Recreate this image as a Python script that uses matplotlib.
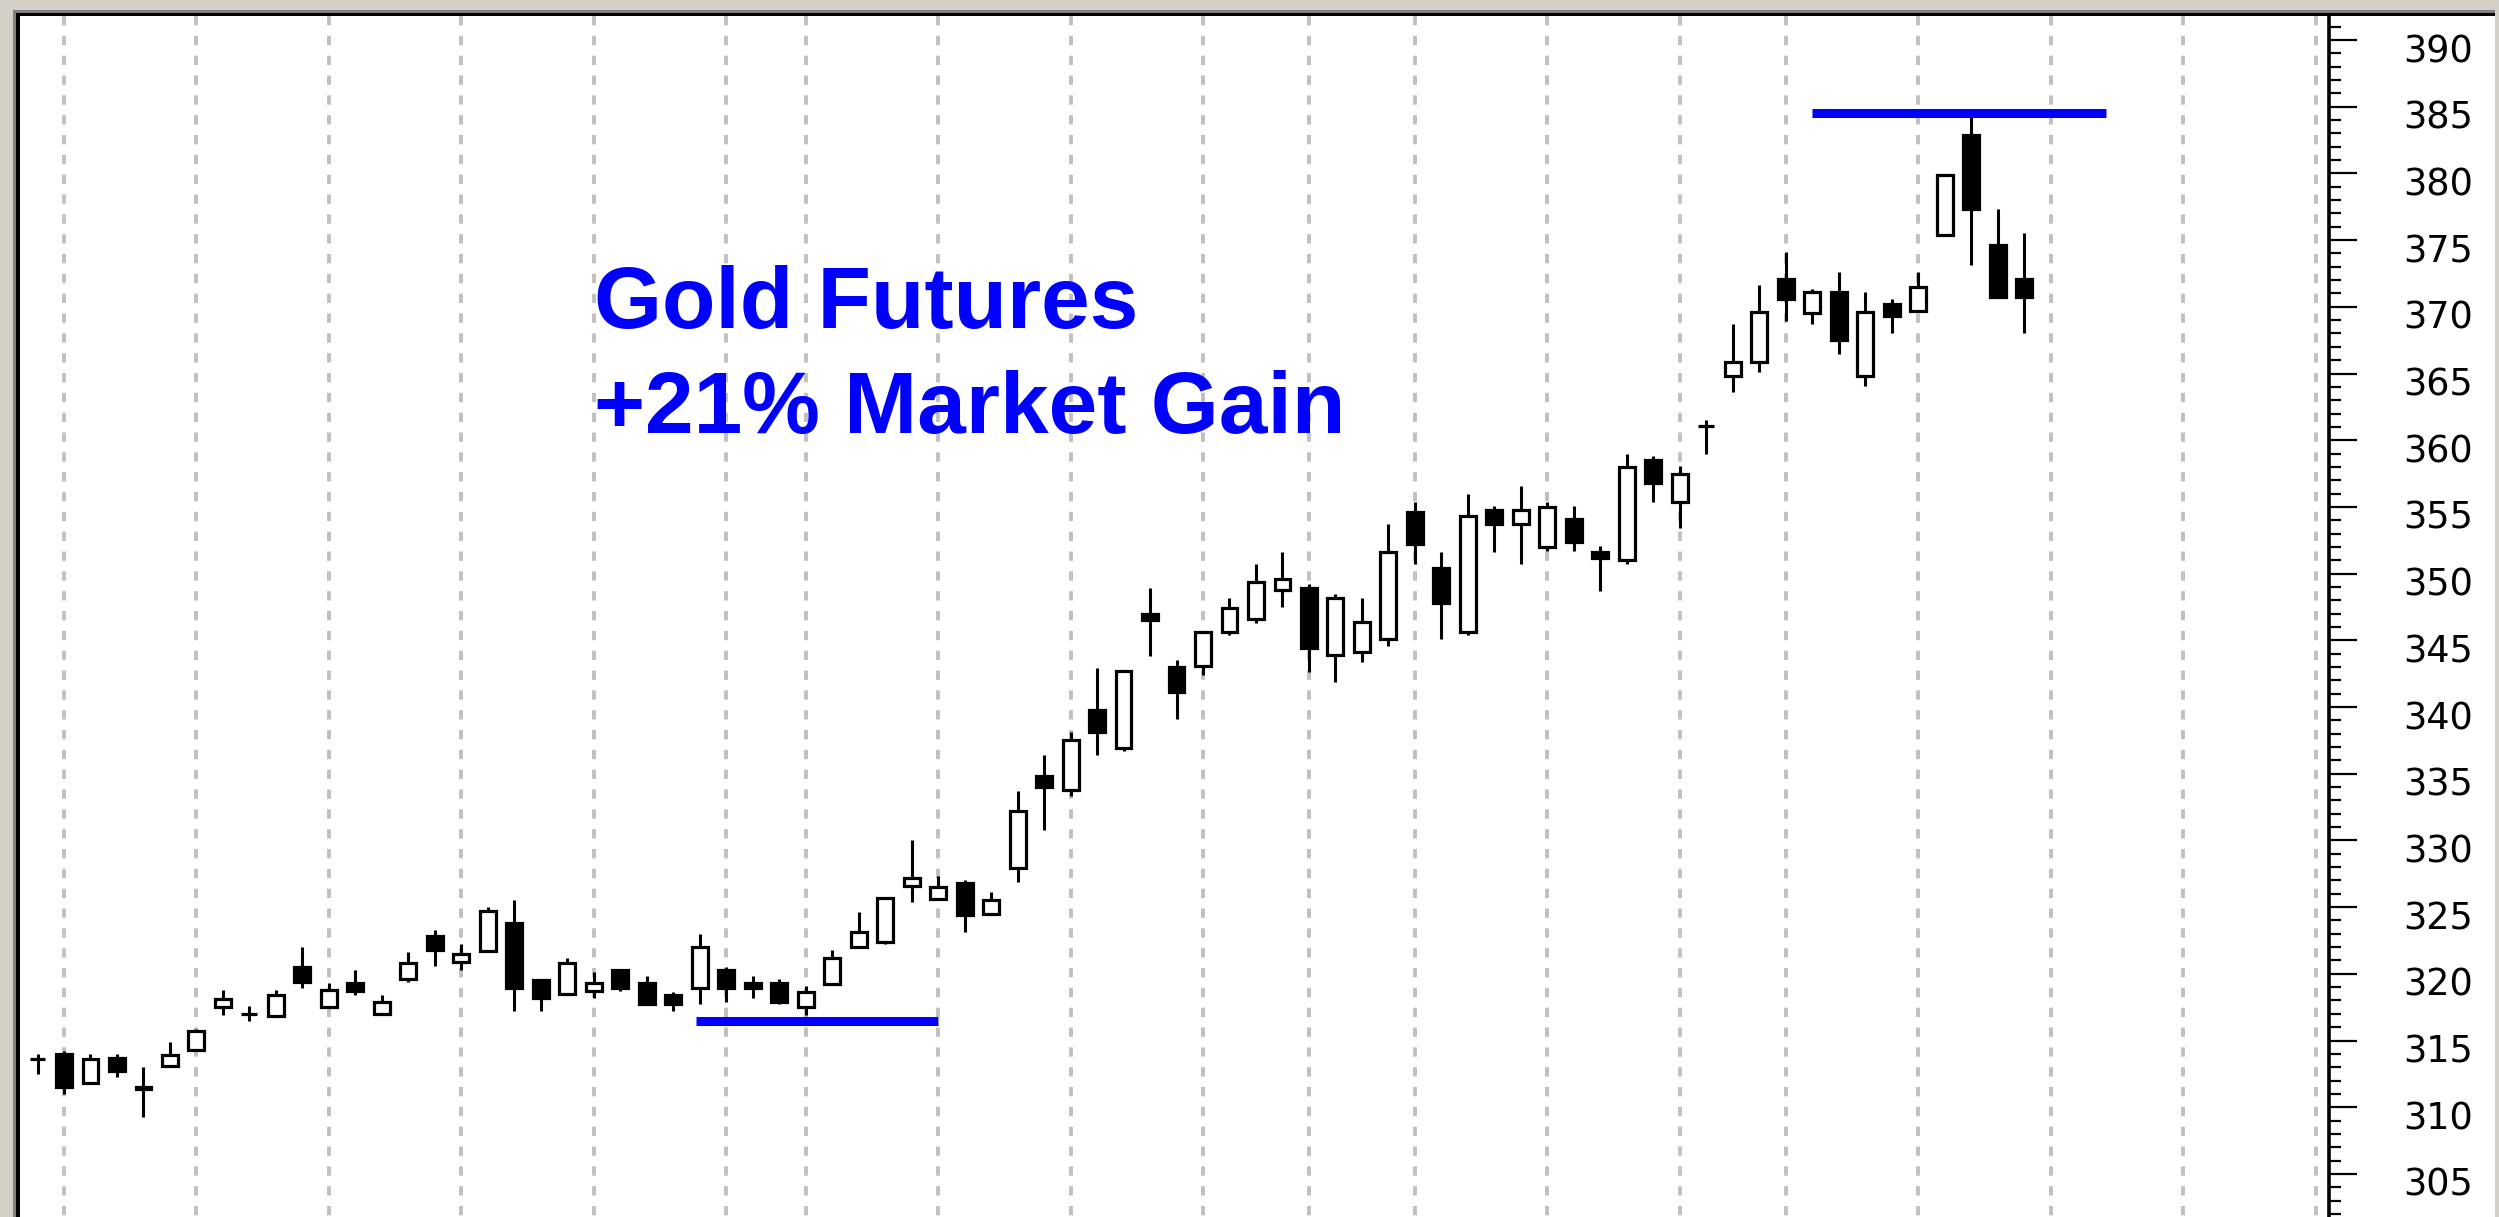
import matplotlib
matplotlib.use('Agg')
import matplotlib.pyplot as plt
import matplotlib.ticker as ticker
from matplotlib.patches import Rectangle
from matplotlib.transforms import ScaledTranslation
import pandas as pd

# Gold futures, daily bars, 18 Oct 2002 - 7 Feb 2003
opens = [313.6, 314.0, 311.8, 313.7, 311.5, 313.1, 314.3, 317.5, 317.0, 316.8,
         320.5, 317.5, 319.3, 317.0, 319.6, 322.8, 320.9, 321.7, 323.8, 319.5,
         318.5, 318.7, 320.3, 319.3, 318.4, 318.9, 320.3, 319.3, 319.3, 317.5,
         319.2, 322.0, 322.4, 326.6, 325.6, 326.8, 324.5, 327.9, 334.8, 333.8,
         339.8, 336.9, 347.0, 343.0, 343.1, 345.6, 346.6, 348.8, 348.9, 343.9,
         344.1, 345.1, 354.6, 350.4, 345.6, 354.8, 353.7, 352.0, 354.1, 351.6,
         351.0, 358.5, 355.4, 361.1, 364.8, 365.9, 372.1, 369.5, 371.1, 364.8,
         370.2, 369.7, 375.4, 382.9, 374.6, 372.1]
highs = [314.0, 314.2, 314.0, 314.0, 313.0, 314.9, 315.9, 318.8, 317.6, 318.8,
         322.0, 319.3, 320.3, 318.4, 321.6, 323.3, 322.2, 325.0, 325.5, 319.5,
         321.2, 320.1, 320.3, 319.8, 318.6, 323.0, 320.5, 319.8, 319.6, 319.1,
         321.8, 324.6, 325.7, 330.0, 327.3, 327.0, 326.1, 333.7, 336.4, 338.1,
         342.9, 342.7, 348.9, 343.5, 345.6, 348.2, 350.7, 351.6, 349.2, 348.5,
         348.2, 353.7, 355.4, 351.6, 356.0, 355.1, 356.6, 355.4, 355.1, 352.1,
         359.0, 358.8, 358.1, 361.5, 368.7, 371.6, 374.1, 371.3, 372.6, 371.1,
         370.6, 372.6, 379.9, 384.4, 377.3, 375.5]
lows = [312.5, 311.0, 311.8, 312.3, 309.3, 313.1, 314.3, 316.9, 316.5, 316.8,
        318.9, 317.5, 318.4, 317.0, 319.4, 320.6, 320.3, 321.7, 317.2, 317.2,
        318.5, 318.2, 318.7, 317.7, 317.2, 317.7, 317.9, 318.2, 317.7, 316.9,
        319.2, 322.0, 322.2, 325.4, 325.6, 323.1, 324.5, 326.9, 330.8, 333.3,
        336.4, 336.7, 343.8, 339.1, 342.4, 345.4, 346.3, 347.5, 342.6, 341.9,
        343.4, 344.6, 350.7, 345.1, 345.4, 351.6, 350.7, 351.7, 351.7, 348.7,
        350.7, 355.4, 353.4, 359.0, 363.6, 365.1, 368.9, 368.7, 366.5, 364.1,
        368.0, 369.7, 375.4, 373.1, 370.7, 368.0]
closes = [313.6, 311.5, 313.6, 312.7, 311.4, 313.9, 315.7, 318.1, 317.0, 318.4,
          319.4, 318.8, 318.7, 317.9, 320.8, 321.8, 321.5, 324.7, 318.9, 318.2,
          320.8, 319.3, 318.9, 317.7, 317.7, 322.0, 318.9, 318.9, 317.9, 318.6,
          321.2, 323.1, 325.7, 327.2, 326.5, 324.4, 325.5, 332.2, 334.0, 337.5,
          338.1, 342.7, 346.5, 341.1, 345.6, 347.4, 349.4, 349.6, 344.4, 348.2,
          346.4, 351.6, 352.2, 347.8, 354.3, 353.7, 354.8, 355.0, 352.4, 351.2,
          358.0, 356.8, 357.5, 361.1, 365.9, 369.6, 370.6, 371.1, 367.5, 369.6,
          369.3, 371.5, 379.9, 377.3, 370.7, 370.7]

first_day = '2002-10-18'
last_day = '2003-02-28'
holidays = ['2002-11-28', '2002-11-29', '2002-12-25', '2003-01-01', '2003-01-20']

title_lines = ['Gold Futures', '+21% Market Gain']

# blue marker lines: (price, first bar, last bar)
low_line = (316.5, 24.86, 34.0)
high_line = (384.55, 67.0, 78.1)

W, H = 2499, 1217
win_gray = '#D4D0C8'
dark_gray = '#808080'
blue = '#0000FF'

days = pd.bdate_range(first_day, last_day)
days = days[~days.isin(pd.to_datetime(holidays))]
weeks = days.to_period('W')
week_starts = [i for i in range(1, len(days)) if weeks[i] != weeks[i - 1]]

fig = plt.figure(figsize=(W / 100, H / 100), dpi=100, facecolor=win_gray)


def box(x0, y0, x1, y1, color):
    # pixel box, origin at top left
    fig.add_artist(Rectangle((x0 / W, 1 - y1 / H), (x1 - x0) / W, (y1 - y0) / H,
                             transform=fig.transFigure, facecolor=color,
                             edgecolor='none', zorder=0))


box(20, 16, 2495, H, 'white')
box(13, 10, 2495, 13, dark_gray)
box(13, 10, 16, H, dark_gray)
box(16, 13, 2495, 16, 'black')
box(16, 13, 20, H, 'black')

ax = fig.add_axes([20 / W, 0, 2308.5 / W, (H - 16) / H])
ax.patch.set_visible(False)

# weekly grid
for i in week_starts:
    ax.plot([i, i], [1, 0], transform=ax.get_xaxis_transform(), color='#C0C0C0',
            lw=2.8, linestyle=(0, (2.4, 2.7)), zorder=1)

# candles
n = len(opens)
xs = list(range(n))
ax.vlines(xs, lows, highs, color='black', lw=2.2, zorder=2)
body_bottom = [min(o, c) for o, c in zip(opens, closes)]
body_height = [abs(c - o) for o, c in zip(opens, closes)]
fills = ['white' if c >= o else 'black' for o, c in zip(opens, closes)]
ax.bar(xs, body_height, bottom=body_bottom, width=0.6, color=fills,
       edgecolor='black', linewidth=2.3, zorder=3)

for level, a, b in (low_line, high_line):
    ax.plot([a, b], [level, level], color=blue, lw=6.5, solid_capstyle='butt', zorder=4)

ax.set_xlim(-0.661, 86.49)
ax.set_ylim(301.77, 391.8)

for s in ('left', 'top', 'bottom'):
    ax.spines[s].set_visible(False)
ax.spines['right'].set_linewidth(2.6)
ax.spines['right'].set_color('black')

ax.set_xticks([])
ax.yaxis.set_ticks_position('right')
ax.yaxis.set_major_locator(ticker.MultipleLocator(5))
ax.yaxis.set_minor_locator(ticker.MultipleLocator(1))
ax.tick_params(axis='y', which='major', length=20, width=1.6, direction='out',
               pad=34, labelsize=26.4, labelcolor='black')
ax.tick_params(axis='y', which='minor', length=8.3, width=1.6, direction='out')

offset = ScaledTranslation(0, -0.075, fig.dpi_scale_trans)
for t in ax.yaxis.get_major_ticks():
    t.label2.set_transform(t.label2.get_transform() + offset)
    t.label2.set_horizontalalignment('left')

fig.text(594 / W, 1 - 327.7 / H, title_lines[0], color=blue, fontsize=63,
         fontweight='bold', family=['Liberation Sans', 'DejaVu Sans'], va='baseline')
fig.text(594 / W, 1 - 432.7 / H, title_lines[1], color=blue, fontsize=63,
         fontweight='bold', family=['Liberation Sans', 'DejaVu Sans'], va='baseline')

fig.savefig('out.png', dpi=100, facecolor=win_gray)
